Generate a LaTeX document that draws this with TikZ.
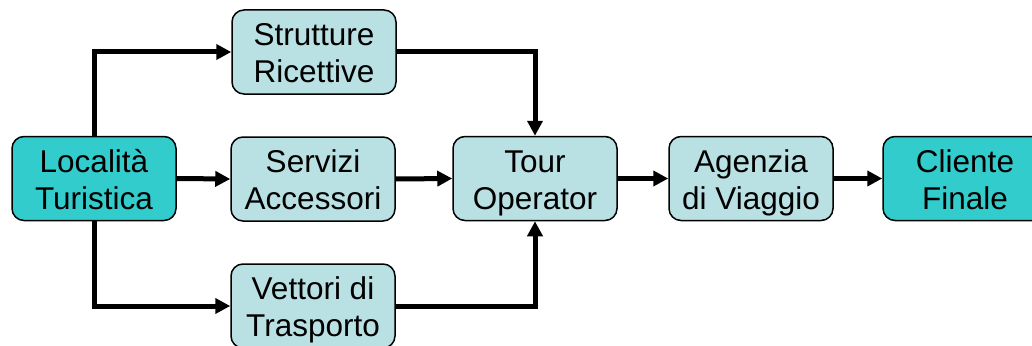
\documentclass[tikz,border=0pt]{standalone}
\usepackage{fontspec}
\setmainfont{Liberation Sans}
\usetikzlibrary{arrows.meta}
\definecolor{lightbox}{RGB}{185,224,227}
\definecolor{darkbox}{RGB}{51,204,204}
\newcommand{\mytopstr}{\rule{0pt}{32pt}}
\newcommand{\mybotstr}{\rule[-8pt]{0pt}{8pt}}
\newcommand{\boxtext}[2]{\mytopstr #1\\#2\mybotstr}
\begin{document}
\begin{tikzpicture}[x=1pt,y=-1pt,
  box/.style={draw=black,line width=1.5pt,rounded corners=12pt,minimum width=164pt,minimum height=84pt,inner sep=0pt,align=center,font=\fontsize{31.5}{37}\selectfont},
  lightnode/.style={box,fill=lightbox},
  darknode/.style={box,fill=darkbox},
  conn/.style={line width=5pt,-{Triangle[length=15pt,width=15pt]}}]
\useasboundingbox (0,0) rectangle (1032,345);
\node[darknode]  (loc)  at (94,178.5)  {\boxtext{Località}{Turistica}};
\node[lightnode] (str)  at (314,52)    {\boxtext{Strutture}{Ricettive}};
\node[lightnode] (ser)  at (313,179)   {\boxtext{Servizi}{Accessori}};
\node[lightnode] (vet)  at (313,306)   {\boxtext{Vettori di}{Trasporto}};
\node[lightnode] (tour) at (535,178.5) {\boxtext{Tour}{Operator}};
\node[lightnode] (age)  at (751,178.5) {\boxtext{Agenzia}{di Viaggio}};
\node[darknode]  (cli)  at (965,178.5) {\boxtext{Cliente}{Finale}};
\draw[conn] (loc.north) |- (str.west);
\draw[conn] (loc.south) |- (vet.west);
\draw[conn] (loc.east) -- (ser.west);
\draw[conn] (str.east) -| (tour.north);
\draw[conn] (vet.east) -| (tour.south);
\draw[conn] (ser.east) -- (tour.west);
\draw[conn] (tour.east) -- (age.west);
\draw[conn] (age.east) -- (cli.west);
\end{tikzpicture}
\end{document}
